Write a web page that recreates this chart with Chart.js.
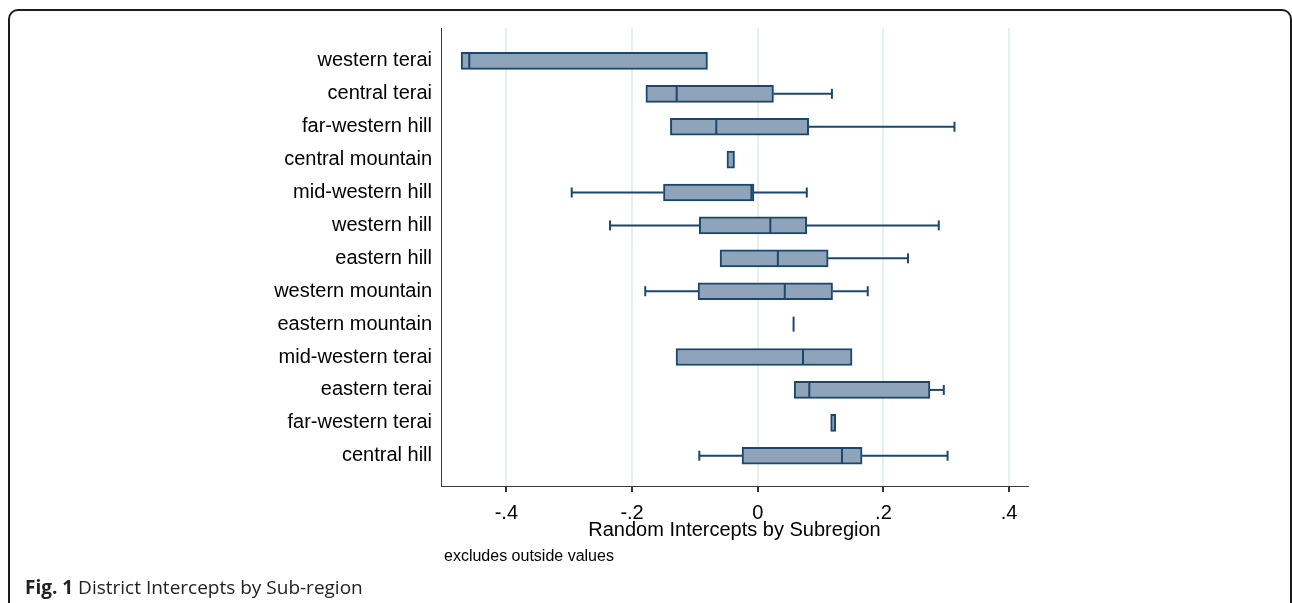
<!DOCTYPE html>
<html>
<head>
<meta charset="utf-8">
<title>District Intercepts by Sub-region</title>
<script src="https://cdn.jsdelivr.net/npm/chart.js@4.4.1/dist/chart.umd.min.js"></script>
<style>
  html, body { margin: 0; padding: 0; background: #fff; overflow: hidden; }
  #page { position: relative; width: 1292px; height: 603px; overflow: hidden; }
  #frame {
    position: absolute; left: 8px; top: 9px; width: 1280px; height: 640px;
    border: 2px solid #1c1c1c; border-radius: 10px;
  }
  #myChart { position: absolute; left: 0; top: 0; }
  #note {
    position: absolute; left: 444px; top: 547px;
    font: 16px "Liberation Sans", Arial, sans-serif; color: #000; line-height: 18px;
  }
  #caption {
    position: absolute; left: 25px; top: 574px;
    font: 19px "Open Sans", "Noto Sans", sans-serif; color: #222; line-height: 26px;
  }
  #caption b { font-weight: 700; }
</style>
</head>
<body>
<div id="page">
  <div id="frame"></div>
  <canvas id="myChart" width="1292" height="603"></canvas>
  <div id="note">excludes outside values</div>
  <div id="caption"><b>Fig. 1</b> District Intercepts by Sub-region</div>
</div>
<script>
'use strict';

// ** DATA **

let categories = ['western terai', 'central terai', 'far-western hill', 'central mountain',
  'mid-western hill', 'western hill', 'eastern hill', 'western mountain', 'eastern mountain',
  'mid-western terai', 'eastern terai', 'far-western terai', 'central hill'];

let lowerWhisker = [-0.472, -0.178, -0.139, -0.049, -0.296, -0.235, -0.060, -0.179, 0.057, -0.130, 0.058, 0.116, -0.093];
let q1 = [-0.472, -0.178, -0.139, -0.049, -0.150, -0.093, -0.060, -0.095, 0.057, -0.130, 0.058, 0.116, -0.025];
let median = [-0.459, -0.129, -0.066, -0.043, -0.010, 0.020, 0.032, 0.043, 0.057, 0.072, 0.082, 0.120, 0.134];
let q3 = [-0.080, 0.025, 0.081, -0.037, -0.006, 0.078, 0.112, 0.119, 0.057, 0.150, 0.274, 0.124, 0.166];
let upperWhisker = [-0.080, 0.118, 0.313, -0.037, 0.078, 0.288, 0.239, 0.175, 0.057, 0.150, 0.296, 0.124, 0.302];

let xTickValues = [-0.4, -0.2, 0, 0.2, 0.4];
let xTickLabels = ['-.4', '-.2', '0', '.2', '.4'];

// ** STYLE **

const navy = '#1a476f';
const boxFill = '#8fa4b8';
const boxHeight = 17;
const capHeight = 10;

Chart.defaults.font.family = '"Liberation Sans", Arial, sans-serif';
Chart.defaults.color = '#000';

// ** CANVAS REFERENCE **

const ctx = document.getElementById('myChart');

// ** PLUGIN: whiskers and medians drawn through the scales **

function line(c, x1, y1, x2, y2) {
  c.beginPath();
  c.moveTo(x1, y1);
  c.lineTo(x2, y2);
  c.stroke();
}

let boxPlotParts = {
  id: 'boxPlotParts',
  beforeDatasetsDraw(chart) {
    let c = chart.ctx;
    let xs = chart.scales.x;
    let ys = chart.scales.y;
    c.save();
    c.strokeStyle = navy;
    c.lineWidth = 2;
    for (let i = 0; i < categories.length; i++) {
      let y = ys.getPixelForValue(i);
      if (lowerWhisker[i] < q1[i]) {
        let xMin = xs.getPixelForValue(lowerWhisker[i]);
        line(c, xMin, y, xs.getPixelForValue(q1[i]), y);
        line(c, xMin, y - capHeight / 2, xMin, y + capHeight / 2);
      }
      if (upperWhisker[i] > q3[i]) {
        let xMax = xs.getPixelForValue(upperWhisker[i]);
        line(c, xs.getPixelForValue(q3[i]), y, xMax, y);
        line(c, xMax, y - capHeight / 2, xMax, y + capHeight / 2);
      }
    }
    c.restore();
  },
  afterDatasetsDraw(chart) {
    let c = chart.ctx;
    let xs = chart.scales.x;
    let ys = chart.scales.y;
    c.save();
    c.strokeStyle = navy;
    c.lineWidth = 2;
    for (let i = 0; i < categories.length; i++) {
      // tiny boxes keep their light centre, as in the original
      if (q3[i] - q1[i] > 0 && q3[i] - q1[i] < 0.02) {
        continue;
      }
      let y = ys.getPixelForValue(i);
      let xm = xs.getPixelForValue(median[i]);
      line(c, xm, y - boxHeight / 2 + 1, xm, y + boxHeight / 2 - 1);
    }
    c.restore();
  }
};

// ** CREATE CHART **

function renderBoxChart() {
  let boxData = [];
  for (let i = 0; i < categories.length; i++) {
    boxData.push({ y: i, x: [q1[i], q3[i]] });
  }

  let myChartObj = {
    type: 'bar',
    data: {
      datasets: [{
        data: boxData,
        backgroundColor: boxFill,
        borderColor: navy,
        borderWidth: 2,
        borderSkipped: false,
        barThickness: boxHeight
      }]
    },
    options: {
      indexAxis: 'y',
      responsive: false,
      animation: false,
      layout: {
        padding: { top: 28, right: 264, left: 0, bottom: 0 }
      },
      plugins: {
        legend: { display: false },
        tooltip: { enabled: false }
      },
      scales: {
        x: {
          type: 'linear',
          position: 'bottom',
          min: -0.504,
          max: 0.43,
          afterBuildTicks: (scale) => {
            scale.ticks = xTickValues.map((v) => ({ value: v }));
          },
          afterFit: (scale) => {
            scale.height = 117;
          },
          ticks: {
            padding: 9,
            font: { size: 20 },
            color: '#000',
            callback: (value, index) => xTickLabels[index]
          },
          grid: {
            color: '#e6eff2',
            lineWidth: 2,
            tickColor: '#333',
            tickLength: 6
          },
          border: { display: true, color: '#3a3a3a', width: 1 },
          title: {
            display: true,
            text: 'Random Intercepts by Subregion',
            font: { size: 20 },
            color: '#000',
            padding: { top: 0, bottom: 61 }
          }
        },
        y: {
          type: 'linear',
          reverse: true,
          offset: false,
          min: -1.0,
          max: 12.92,
          afterBuildTicks: (scale) => {
            scale.ticks = categories.map((c, i) => ({ value: i }));
          },
          afterFit: (scale) => {
            scale.width = 441;
          },
          ticks: {
            padding: 9,
            font: { size: 20 },
            color: '#000',
            callback: (value) => categories[value]
          },
          grid: { display: false, drawTicks: false, offset: false },
          border: { display: true, color: '#3a3a3a', width: 1 }
        }
      }
    },
    plugins: [boxPlotParts]
  };

  new Chart(ctx, myChartObj);
}

renderBoxChart();
</script>
</body>
</html>
